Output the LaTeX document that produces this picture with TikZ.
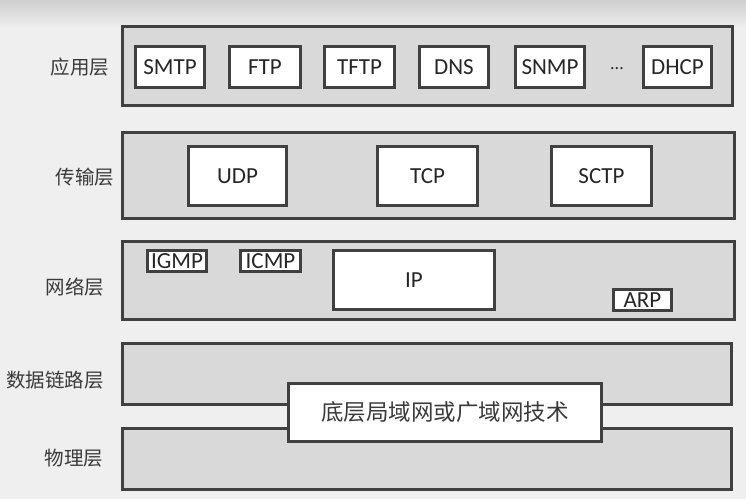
\documentclass[tikz,border=0pt]{standalone}
\usepackage{fontspec}
\setmainfont{Carlito}
\newfontfamily\cjk{Noto Sans CJK SC}
\definecolor{bg}{HTML}{EFEFEF}
\definecolor{bgtop}{HTML}{CFCFCF}
\definecolor{layerfill}{HTML}{D9D9D9}
\definecolor{edge}{HTML}{404040}
\definecolor{ink}{HTML}{262626}
\definecolor{cjkink}{HTML}{3A3A3A}
\tikzset{
  layer/.style={draw=edge, fill=layerfill, line width=3pt, rectangle, inner sep=0pt},
  proto/.style={draw=edge, fill=white, line width=3pt, rectangle, inner sep=0pt,
     text=ink, font=\fontsize{23}{27}\selectfont},
  small/.style={draw=edge, fill=white, line width=2.5pt, rectangle, inner sep=0pt,
     text=ink, font=\fontsize{23}{27}\selectfont},
  lbl/.style={text=cjkink, inner sep=0pt, font=\cjk\fontsize{19.5}{22}\selectfont},
}
\begin{document}
\begin{tikzpicture}[x=1pt,y=-1pt]
\useasboundingbox (0,0) rectangle (746,499);
\fill[bg] (0,0) rectangle (746,499);
\shade[top color=bgtop, bottom color=bg] (0,0) rectangle (746,28);

% layers
\node[layer, minimum width=610, minimum height=79] (app) at (427.5,66) {};
\node[layer, minimum width=612, minimum height=86] (trans) at (428.5,175.5) {};
\node[layer, minimum width=612, minimum height=78] (net) at (428.5,280.5) {};
\node[layer, minimum width=609, minimum height=61] (link) at (427,374) {};
\node[layer, minimum width=609, minimum height=61] (phys) at (427,459) {};

% application protocols
\node[proto, minimum width=69, minimum height=41] (smtp) at (170,67) {SMTP};
\node[proto, minimum width=71, minimum height=41] (ftp) at (265,67) {FTP};
\node[proto, minimum width=70, minimum height=41] (tftp) at (359.5,67) {TFTP};
\node[proto, minimum width=69, minimum height=41] (dns) at (454,67) {DNS};
\node[proto, minimum width=69, minimum height=41] (snmp) at (550,67) {SNMP};
\node[text=ink, inner sep=0pt, font=\fontsize{18}{22}\selectfont] (dots) at (617,69) {...};
\node[proto, minimum width=68, minimum height=41] (dhcp) at (677.5,67) {DHCP};

% transport protocols
\node[proto, minimum width=98, minimum height=59] (udp) at (237.5,176) {UDP};
\node[proto, minimum width=100, minimum height=59] (tcp) at (427.5,176) {TCP};
\node[proto, minimum width=100, minimum height=59] (sctp) at (601.5,176) {SCTP};

% network protocols
\node[small, minimum width=59, minimum height=21] (igmp) at (177,261) {IGMP};
\node[small, minimum width=60, minimum height=21] (icmp) at (270.5,261) {ICMP};
\node[proto, minimum width=161, minimum height=59] (ip) at (414,280) {IP};
\node[small, minimum width=58, minimum height=21] (arp) at (642.5,300) {ARP};

% lower layers technology
\node[proto, minimum width=313, minimum height=58, text=cjkink, font=\cjk\fontsize{22.5}{26}\selectfont] (tech) at (445,412.5) {底层局域网或广域网技术};

% layer labels
\node[lbl] (lapp) at (80,67) {应用层};
\node[lbl] (ltrans) at (85,177) {传输层};
\node[lbl] (lnet) at (75,287) {网络层};
\node[lbl] (llink) at (55,380) {数据链路层};
\node[lbl] (lphys) at (74,458) {物理层};
\end{tikzpicture}
\end{document}
